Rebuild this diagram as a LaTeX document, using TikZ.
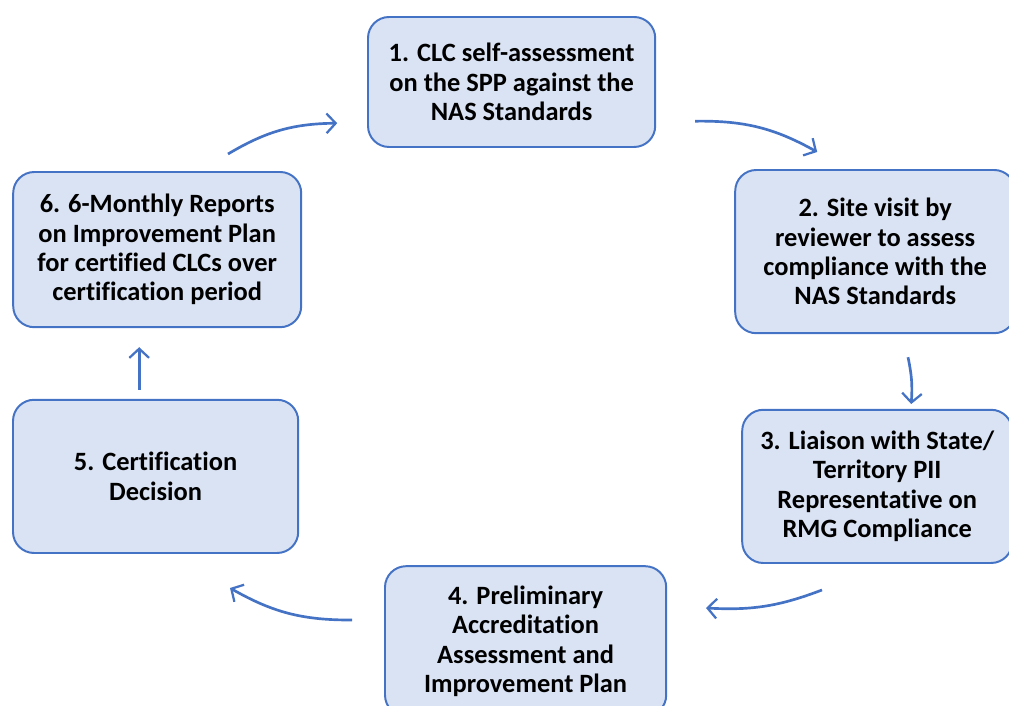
\documentclass[tikz,border=0pt]{standalone}
\usepackage{fontspec}
\setmainfont[Ligatures=NoCommon]{Carlito}
\usetikzlibrary{arrows.meta}
\definecolor{cycleblue}{RGB}{68,114,196}
\definecolor{cyclefill}{RGB}{218,227,243}

\begin{document}
\begin{tikzpicture}[
    stage/.style={rectangle, rounded corners=15pt, draw=cycleblue, line width=1.4pt,
                  fill=cyclefill, align=center, inner sep=0pt,
                  font=\fontsize{18.8}{20.8}\selectfont\bfseries},
    arrow/.style={-{Straight Barb[length=6.5pt, width=14pt, line width=1.6pt]},
                  draw=cycleblue, line width=1.9pt, bend left=15}
]

% Page frame
\useasboundingbox (0,0) rectangle (25.225,-17.65);
\clip (0,0) rectangle (25.225,-17.65);

% Stages of the cycle
\node[stage, minimum width=7.18cm, minimum height=3.25cm] (selfassess) at (12.79,-2.05)
     {1. CLC self-assessment\\on the SPP against the\\NAS Standards};
\node[stage, minimum width=7.0cm, minimum height=4.08cm] (sitevisit) at (21.88,-6.29)
     {2. Site visit by\\reviewer to assess\\compliance with the\\NAS Standards};
\node[stage, minimum width=6.75cm, minimum height=3.83cm] (liaison) at (21.93,-12.16)
     {3. Liaison with State/\\Territory PII\\Representative on\\RMG Compliance};
\node[stage, minimum width=7.03cm, minimum height=3.75cm] (prelim) at (13.14,-16.03)
     {4. Preliminary\\Accreditation\\Assessment and\\Improvement Plan};
\node[stage, minimum width=7.13cm, minimum height=3.83cm] (decision) at (3.89,-11.91)
     {5. Certification\\Decision};
\node[stage, minimum width=7.2cm, minimum height=3.88cm] (reports) at (3.93,-6.24)
     {6. 6-Monthly Reports\\on Improvement Plan\\for certified CLCs over\\certification period};

% Arrow ends between the stages
\coordinate (a1-s) at (5.7,-3.85);   \coordinate (a1-e) at (8.43,-3.08);
\coordinate (a2-s) at (17.38,-3.03); \coordinate (a2-e) at (20.43,-3.8);
\coordinate (a3-s) at (22.7,-8.93);  \coordinate (a3-e) at (22.78,-10.1);
\coordinate (a4-s) at (20.55,-14.75);\coordinate (a4-e) at (17.65,-15.2);
\coordinate (a5-s) at (8.8,-15.5);   \coordinate (a5-e) at (5.75,-14.7);
\coordinate (a6-s) at (3.48,-9.75);  \coordinate (a6-e) at (3.48,-8.68);

% Cycle arrows
\draw[arrow] (a1-s) to (a1-e);
\draw[arrow] (a2-s) to (a2-e);
\draw[arrow, bend left=8] (a3-s) to (a3-e);
\draw[arrow, bend left=12] (a4-s) to (a4-e);
\draw[arrow] (a5-s) to (a5-e);
\draw[arrow, bend left=0] (a6-s) to (a6-e);

\end{tikzpicture}
\end{document}
